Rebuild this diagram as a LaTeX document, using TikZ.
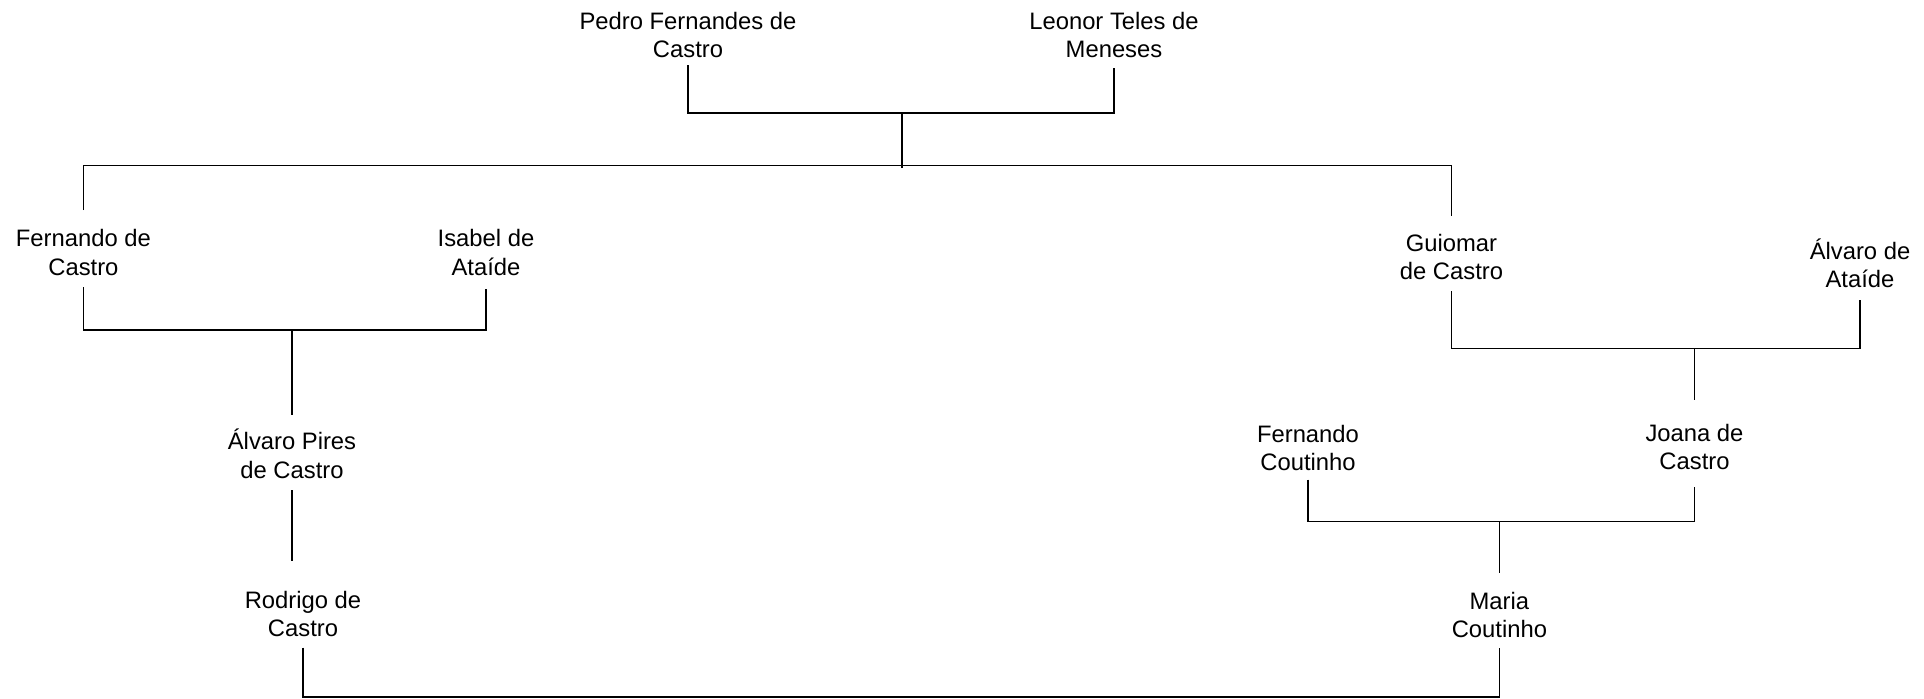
\documentclass[tikz,border=0pt]{standalone}
\usepackage{fontspec}
\setmainfont{Liberation Sans}
\usepackage{tikz}
\usetikzlibrary{calc}
\tikzset{
	person/.style={align=center, inner sep=0pt, font=\fontsize{6.77pt}{8pt}\selectfont},
	tie/.style={black, line width=0.4pt},
}

\begin{document}
\begin{tikzpicture}
	\useasboundingbox (0,0) rectangle (19.24,-6.98);
	
	% Parents at the top
	\node[person] (pedro) at (6.88,-0.347) {Pedro Fernandes de\\Castro};
	\node[person] (leonor) at (11.14,-0.347) {Leonor Teles de\\Meneses};
	
	% Their children
	\node[person] (fernando) at (0.834,-2.525) {Fernando de\\Castro};
	\node[person] (isabel) at (4.86,-2.525) {Isabel de\\Ataíde};
	\node[person] (guiomar) at (14.515,-2.568) {Guiomar\\de Castro};
	\node[person] (alvaro) at (18.60,-2.63) {Álvaro de\\Ataíde};
	
	% Grandchildren
	\node[person] (alvaropires) at (2.92,-4.538) {Álvaro Pires\\de Castro};
	\node[person] (fcoutinho) at (13.08,-4.476) {Fernando\\Coutinho};
	\node[person] (joana) at (16.945,-4.47) {Joana de\\Castro};
	
	% Bottom couple
	\node[person] (rodrigo) at (3.03,-6.14) {Rodrigo de\\Castro};
	\node[person] (maria) at (14.994,-6.15) {Maria\\Coutinho};
	
	% Marriage bars and descent lines
	\coordinate (pl) at (9.02,-1.129);
	\coordinate (sibs) at (9.02,-1.656);
	\draw[tie, shorten <=0.7mm, shorten >=1.0mm] (pedro.south) |- (pl) -| (leonor.south);
	\draw[tie] (pl) -- ($(sibs)+(0,-0.025)$);
	\draw[tie, shorten <=1.9mm, shorten >=1.7mm] (fernando.north) |- (sibs) -| (guiomar.north);
	
	\coordinate (fi) at (2.92,-3.30);
	\draw[tie, shorten <=1.1mm, shorten >=1.3mm] (fernando.south) |- (fi) -| (isabel.south);
	\draw[tie, shorten >=1.4mm] (fi) -- (alvaropires.north);
	\draw[tie, shorten <=1.1mm, shorten >=3.0mm] (alvaropires.south) -- (alvaropires.south |- rodrigo.north);
	
	\coordinate (ga) at (16.945,-3.485);
	\draw[tie, shorten <=1.1mm, shorten >=1.2mm] (guiomar.south) |- (ga) -| (alvaro.south);
	\draw[tie, shorten >=2.4mm] (ga) -- (joana.north);
	
	\coordinate (fj) at (14.994,-5.215);
	\draw[tie, shorten <=0.85mm, shorten >=1.6mm] (fcoutinho.south) |- (fj) -| (joana.south);
	\draw[tie, shorten >=1.9mm] (fj) -- (maria.north);
	
	\coordinate (rm) at (9.0,-6.97);
	\draw[tie, shorten <=1.0mm, shorten >=0.9mm] (rodrigo.south) |- (rm) -| (maria.south);
	
\end{tikzpicture}
\end{document}
